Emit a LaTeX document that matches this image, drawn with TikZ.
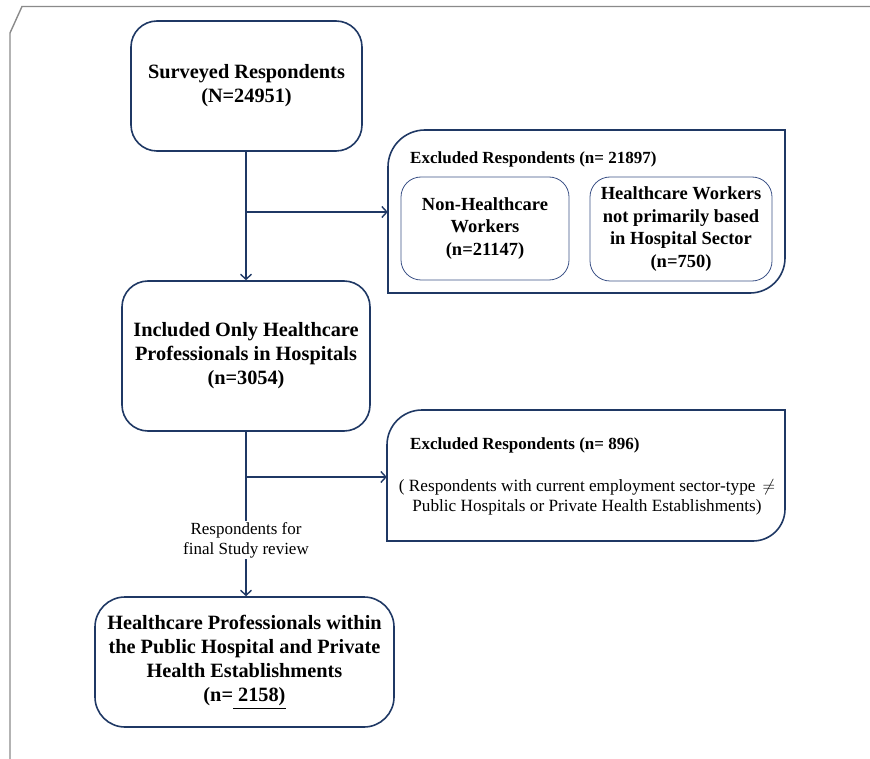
\documentclass[tikz,border=0pt]{standalone}
\usepackage{fontspec}
\setmainfont{Liberation Serif}
\usetikzlibrary{arrows.meta}
\definecolor{navy}{HTML}{1F3864}
\definecolor{lnavy}{HTML}{3B5186}
\definecolor{framegray}{HTML}{8A8A8A}
\tikzset{
  mainbox/.style={draw=navy, line width=1.6pt, rounded corners=26pt, align=center, inner sep=0pt,
    font=\fontsize{20.3}{24}\selectfont\bfseries},
  innerbox/.style={draw=lnavy, line width=0.8pt, rounded corners=20pt, align=center, inner sep=0pt,
    font=\fontsize{18.5}{22.5}\selectfont\bfseries},
  exshape/.style={draw=navy, line width=1.6pt},
  conn/.style={draw=navy, line width=1.8pt},
  arr/.style={conn, -{Straight Barb[length=5pt,width=11pt,line width=1.4pt]}},
  titletext/.style={font=\fontsize{17}{20}\selectfont\bfseries, anchor=west, inner sep=0pt},
  bodytext/.style={font=\fontsize{17.2}{20}\selectfont, align=center, inner sep=0pt},
  lbl/.style={font=\fontsize{17}{20}\selectfont, align=center, fill=white, inner sep=1pt}
}
\begin{document}
\begin{tikzpicture}[x=1pt,y=-1pt]
\useasboundingbox (0,0) rectangle (870,759);
% outer frame
\draw[framegray, line width=1.4pt] (870,6.5) -- (22,6.5) -- (10,33) -- (10,759);

% main boxes
\node[mainbox, minimum width=231pt, minimum height=130pt] (b1) at (246.5,86)
  {Surveyed Respondents\\(N=24951)};
\node[mainbox, minimum width=248pt, minimum height=150pt] (b2) at (246,356)
  {Included Only Healthcare\\Professionals in Hospitals\\(n=3054)};
\node[mainbox, minimum width=299pt, minimum height=130pt, rounded corners=30pt] (b3) at (244.5,662)
  {Healthcare Professionals within\\the Public Hospital and Private\\Health Establishments\\(n=\underline{\ 2158)}};

% excluded box 1
\node[minimum width=397pt, minimum height=163pt, inner sep=0pt] (ex1) at (586.5,211.5) {};
\draw[exshape] (388,293) -- (388,167) arc[start angle=180, end angle=270, radius=37]
  -- (785,130) -- (785,258) arc[start angle=0, end angle=90, radius=35] -- cycle;
\node[titletext] (t1) at (410,159) {Excluded Respondents (n= 21897)};
\node[innerbox, minimum width=168pt, minimum height=103pt] (i1) at (485,228.5)
  {Non-Healthcare\\Workers\\(n=21147)};
\node[innerbox, minimum width=182pt, minimum height=104pt] (i2) at (681,229)
  {Healthcare Workers\\not primarily based\\in Hospital Sector\\(n=750)};

% excluded box 2
\node[minimum width=398pt, minimum height=131pt, inner sep=0pt] (ex2) at (586,475.5) {};
\draw[exshape] (387,541) -- (387,445) arc[start angle=180, end angle=270, radius=35]
  -- (785,410) -- (785,509) arc[start angle=0, end angle=90, radius=32] -- cycle;
\node[titletext] (t2) at (410,445) {Excluded Respondents (n= 896)};
\node[bodytext] (bd2) at (587,497)
  {( Respondents with current employment sector-type \,$\neq$\\Public Hospitals or Private Health Establishments)};

% connectors
\coordinate (j1) at (246,212);
\coordinate (j2) at (246,477);
\draw[arr] (b1.south -| j1) -- (b2.north -| j1);
\draw[arr] (j1) -- (j1 -| ex1.west);
\node[lbl] (l1) at (246,540) {Respondents for\\final Study review};
\draw[conn] (b2.south -| j2) -- (l1.north);
\draw[arr] (l1.south) -- (l1.south |- b3.north);
\draw[arr] (j2) -- (j2 -| ex2.west);
\end{tikzpicture}
\end{document}
